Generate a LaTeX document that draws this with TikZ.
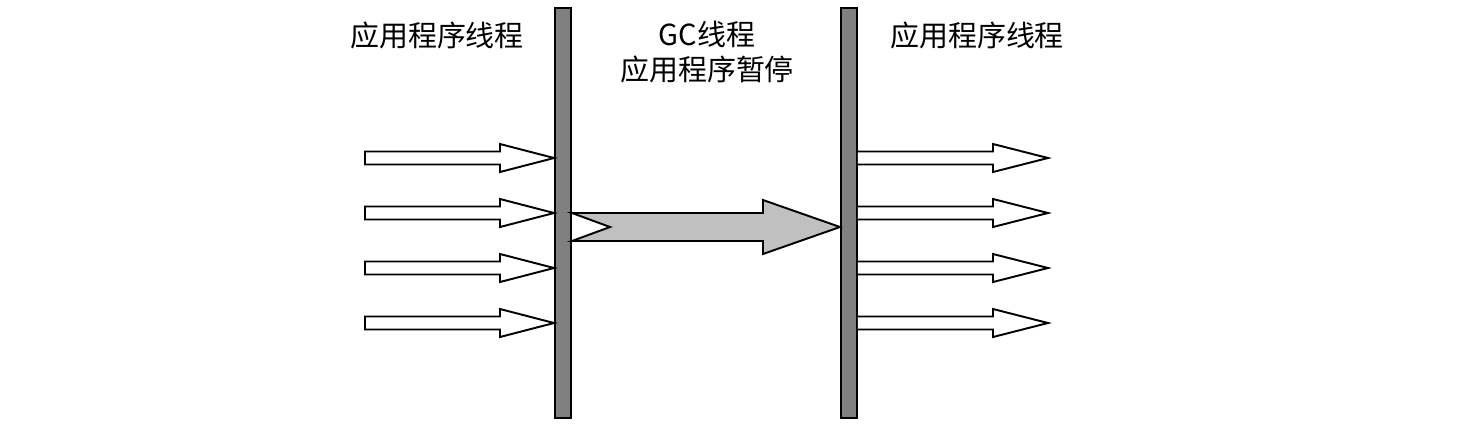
\documentclass[tikz,border=0pt]{standalone}
\usepackage{fontspec}
\setmainfont{Noto Sans CJK SC}
\definecolor{barGray}{HTML}{808080}
\definecolor{gcGray}{HTML}{C0C0C0}
\tikzset{
  bar/.style={draw, line width=1.1pt, fill=barGray, minimum width=0.32cm, minimum height=8.2cm, inner sep=0pt},
  title/.style={font=\fontsize{16.5}{20}\selectfont, align=center, inner sep=0pt},
  hollow/.style={draw, line width=1.1pt, fill=white, line join=miter},
  gcarrow/.style={draw, line width=1.1pt, fill=gcGray, line join=miter}
}

\begin{document}
\begin{tikzpicture}[x=0.02cm,y=-0.02cm]
\useasboundingbox (0,0) rectangle (1466,434);
% the two safepoint bars
\node[bar] (L) at (563,213) {};
\node[bar] (R) at (849,213) {};
% labels
\node[title] (appA) at (437,35) {应用程序线程};
\node[title] (gc) at (707,52) {GC线程\\应用程序暂停};
\node[title] (appB) at (977,35) {应用程序线程};
% application threads before and after the pause
\foreach \y in {158,213,268,323}{
  \draw[hollow] (365,\y-6.5) -- (500,\y-6.5) -- (500,\y-14) -- (L.west |- 0,\y)
    -- (500,\y+14) -- (500,\y+6.5) -- (365,\y+6.5) -- cycle;
  \draw[hollow] (R.east |- 0,\y-6.5) -- (993,\y-6.5) -- (993,\y-14) -- (1048,\y)
    -- (993,\y+14) -- (993,\y+6.5) -- (R.east |- 0,\y+6.5);
}
% the GC thread
\draw[gcarrow] (L.east |- 0,213) -- (763,213) -- (763,200) -- (R.west |- 0,227)
  -- (763,254) -- (763,241) -- (L.east |- 0,241) -- (610,227) -- cycle;
\end{tikzpicture}
\end{document}
